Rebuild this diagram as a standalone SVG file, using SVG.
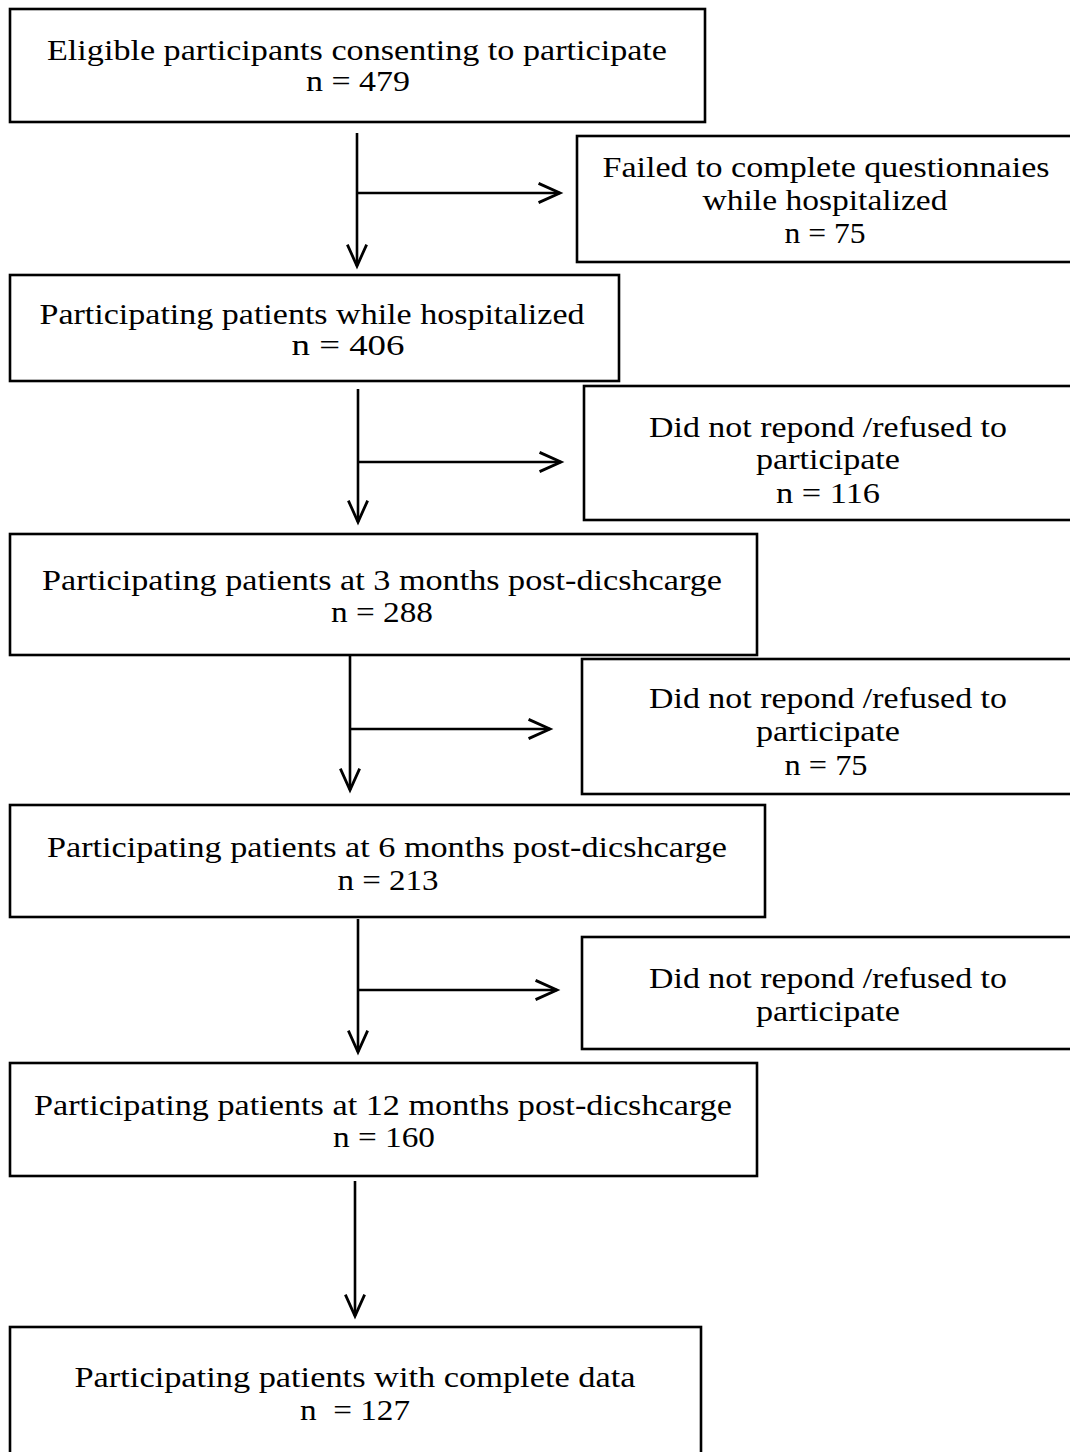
<svg xmlns="http://www.w3.org/2000/svg" width="1070" height="1452" viewBox="0 0 1070 1452">
<style>
.box{fill:#fff;stroke:#000;stroke-width:2.6}
.c{fill:none;stroke:#000;stroke-width:2.6}
</style>
<defs>
<marker id="ah" markerUnits="userSpaceOnUse" markerWidth="30" markerHeight="30" viewBox="-24 -12 28 24" refX="0" refY="0" orient="auto">
<path d="M-20,-9 L0,0 L-20,9" fill="none" stroke="#000" stroke-width="2.6"/>
</marker>
</defs>
<rect width="1070" height="1452" fill="#fff"/>
<g id="connectors">
<path class="c" d="M357,133 V266" marker-end="url(#ah)"/>
<path class="c" d="M357,193 H560" marker-end="url(#ah)"/>
<path class="c" d="M358,389 V522" marker-end="url(#ah)"/>
<path class="c" d="M358,462 H561" marker-end="url(#ah)"/>
<path class="c" d="M350,656 V790" marker-end="url(#ah)"/>
<path class="c" d="M350,729 H550" marker-end="url(#ah)"/>
<path class="c" d="M358,919 V1052" marker-end="url(#ah)"/>
<path class="c" d="M358,990 H557" marker-end="url(#ah)"/>
<path class="c" d="M355,1181 V1316" marker-end="url(#ah)"/>
</g>
<g id="nodes" font-family="Liberation Serif, serif" font-size="29" fill="#000" text-anchor="middle">
<g id="n1">
<rect class="box" x="10" y="9" width="695" height="113"/>
<text x="357" y="60" textLength="620" lengthAdjust="spacingAndGlyphs">Eligible participants consenting to participate</text>
<text x="358" y="91" textLength="104" lengthAdjust="spacingAndGlyphs">n = 479</text>
</g>
<g id="s1">
<rect class="box" x="577" y="136" width="500" height="126"/>
<text x="826" y="177" textLength="447" lengthAdjust="spacingAndGlyphs">Failed to complete questionnaies</text>
<text x="825" y="210" textLength="245" lengthAdjust="spacingAndGlyphs">while hospitalized</text>
<text x="825" y="243" textLength="81" lengthAdjust="spacingAndGlyphs">n = 75</text>
</g>
<g id="n2">
<rect class="box" x="10" y="275" width="609" height="106"/>
<text x="312" y="324" textLength="545" lengthAdjust="spacingAndGlyphs">Participating patients while hospitalized</text>
<text x="348" y="355" textLength="113" lengthAdjust="spacingAndGlyphs">n = 406</text>
</g>
<g id="s2">
<rect class="box" x="584" y="386" width="500" height="134"/>
<text x="828" y="437" textLength="358" lengthAdjust="spacingAndGlyphs">Did not repond /refused to</text>
<text x="828" y="469" textLength="144" lengthAdjust="spacingAndGlyphs">participate</text>
<text x="828" y="503" textLength="104" lengthAdjust="spacingAndGlyphs">n = 116</text>
</g>
<g id="n3">
<rect class="box" x="10" y="534" width="747" height="121"/>
<text x="382" y="590" textLength="680" lengthAdjust="spacingAndGlyphs">Participating patients at 3 months post-dicshcarge</text>
<text x="382" y="622" textLength="102" lengthAdjust="spacingAndGlyphs">n = 288</text>
</g>
<g id="s3">
<rect class="box" x="582" y="659" width="500" height="135"/>
<text x="828" y="708" textLength="358" lengthAdjust="spacingAndGlyphs">Did not repond /refused to</text>
<text x="828" y="741" textLength="144" lengthAdjust="spacingAndGlyphs">participate</text>
<text x="826" y="775" textLength="83" lengthAdjust="spacingAndGlyphs">n = 75</text>
</g>
<g id="n4">
<rect class="box" x="10" y="805" width="755" height="112"/>
<text x="387" y="857" textLength="680" lengthAdjust="spacingAndGlyphs">Participating patients at 6 months post-dicshcarge</text>
<text x="388" y="890" textLength="101" lengthAdjust="spacingAndGlyphs">n = 213</text>
</g>
<g id="s4">
<rect class="box" x="582" y="937" width="500" height="112"/>
<text x="828" y="988" textLength="358" lengthAdjust="spacingAndGlyphs">Did not repond /refused to</text>
<text x="828" y="1021" textLength="144" lengthAdjust="spacingAndGlyphs">participate</text>
</g>
<g id="n5">
<rect class="box" x="10" y="1063" width="747" height="113"/>
<text x="383" y="1115" textLength="698" lengthAdjust="spacingAndGlyphs">Participating patients at 12 months post-dicshcarge</text>
<text x="384" y="1147" textLength="102" lengthAdjust="spacingAndGlyphs">n = 160</text>
</g>
<g id="n6">
<rect class="box" x="10" y="1327" width="691" height="140"/>
<text x="355" y="1387" textLength="561" lengthAdjust="spacingAndGlyphs">Participating patients with complete data</text>
<text x="355" y="1420" textLength="110" lengthAdjust="spacingAndGlyphs" xml:space="preserve">n  = 127</text>
</g>
</g>
</svg>
